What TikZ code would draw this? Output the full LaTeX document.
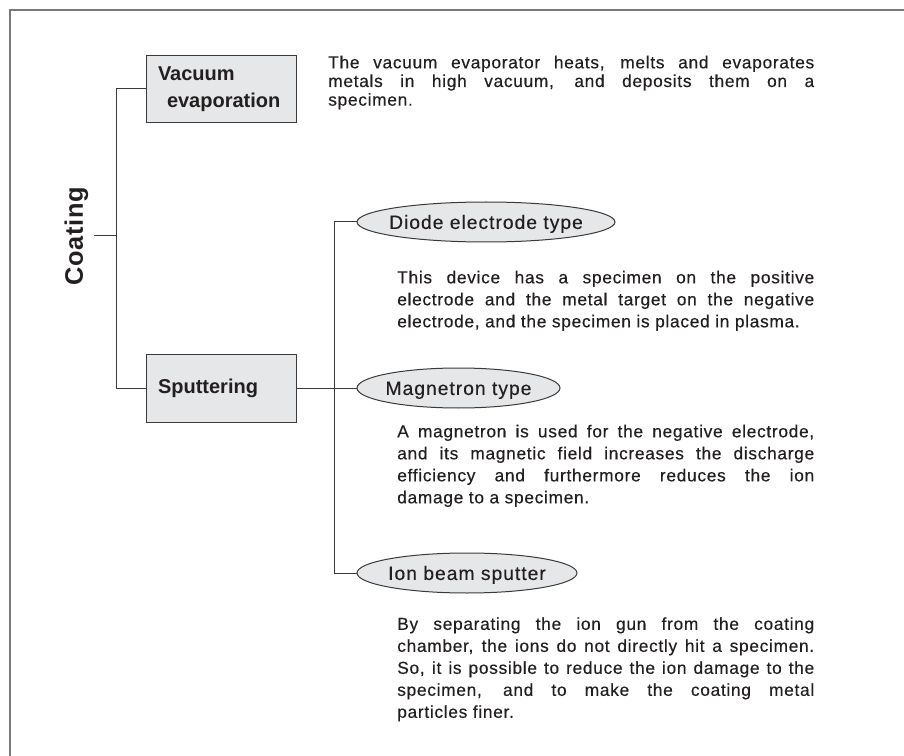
\documentclass[tikz,border=0pt]{standalone}
\usepackage{fontspec}
\setmainfont{Liberation Sans}
\newfontfamily\bodyfont[LetterSpace=4,FakeBold=0.35]{Liberation Sans}
\newfontfamily\ellfont[LetterSpace=5,FakeBold=0.3]{Liberation Sans}
\newfontfamily\coatfont[LetterSpace=3]{Liberation Sans}
\usetikzlibrary{shapes.geometric}
\definecolor{ink}{HTML}{231F20}
\definecolor{boxfill}{HTML}{E6E7E8}
\definecolor{framegray}{HTML}{7A7A7A}
\definecolor{linegray}{HTML}{3A3A3A}
\tolerance=10000
\pretolerance=10000
\hbadness=10000
\newcommand\ellbl[1]{\makebox[0pt]{\raisebox{-0.36em}[0pt][0pt]{#1}}}
\tikzset{
  catbox/.style={draw=linegray, line width=0.75pt, fill=boxfill,
    text width=94.5pt, inner xsep=9pt, inner ysep=0pt, align=left,
    text=ink, font=\fontsize{15}{20}\selectfont\bfseries},
  typeell/.style={ellipse, draw=linegray, line width=0.75pt, fill=boxfill,
    inner sep=0pt, minimum height=30pt, text=ink,
    font=\ellfont\fontsize{14.5}{17}\selectfont},
  desc/.style={anchor=north west, inner sep=0pt, text=ink, align=justify,
    font=\bodyfont\fontsize{13}{16.5}\selectfont},
  conn/.style={draw=linegray, line width=0.75pt},
}
\begin{document}
\begin{tikzpicture}[x=0.75pt,y=-0.75pt]
\useasboundingbox (0,0) rectangle (904,756);
\draw[framegray, line width=1.5pt] (10,756) -- (10,10) -- (904,10);

% root
\node[rotate=90, inner sep=3.75pt, text=ink,
  font=\coatfont\fontsize{19}{22}\selectfont\bfseries] (coat) at (76.5,236) {Coating};

% categories
\node[catbox, minimum height=50.25pt] (vac) at (221,89) {Vacuum\\\hspace*{6.75pt}evaporation};
\node[catbox, minimum height=51pt] (sput) at (221,388) {Sputtering};

% types
\node[typeell, minimum width=193.5pt] (diode) at (486,222) {\ellbl{Diode electrode type}};
\node[typeell, minimum width=152.25pt] (mag) at (458.5,388) {\ellbl{Magnetron type}};
\node[typeell, minimum width=165pt] (ion) at (467,573) {\ellbl{Ion beam sputter}};

% descriptions
\node[desc, text width=364.5pt, font=\bodyfont\fontsize{13}{14}\selectfont] (d1) at (328,55.5)
  {The vacuum evaporator heats, melts and evaporates\linebreak
   metals in high vacuum, and deposits them on a\linebreak
   specimen.};
\node[desc, text width=312.75pt] (d2) at (397,270.5)
  {This device has a specimen on the positive\linebreak
   electrode and the metal target on the negative\linebreak
   electrode, and the specimen is placed in plasma.};
\node[desc, text width=312.75pt] (d3) at (397,424.5)
  {A magnetron is used for the negative electrode,\linebreak
   and its magnetic field increases the discharge\linebreak
   efficiency and furthermore reduces the ion\linebreak
   damage to a specimen.};
\node[desc, text width=312.75pt] (d4) at (397,617)
  {By separating the ion gun from the coating\linebreak
   chamber, the ions do not directly hit a specimen.\linebreak
   So, it is possible to reduce the ion damage to the\linebreak
   specimen, and to make the coating metal\linebreak
   particles finer.};

% connectors
\coordinate (c1) at (116,236);
\coordinate (v1) at (116,89);
\coordinate (v2) at (116,388);
\draw[conn] (coat.south) -- (c1);
\draw[conn] (vac.west) -- (v1) -- (v2) -- (sput.west);
\draw[conn] (sput.east) -- (mag.west);
\coordinate (w1) at (334,222);
\coordinate (w2) at (334,573);
\draw[conn] (diode.west) -- (w1) -- (w2) -- (ion.west);
\end{tikzpicture}
\end{document}
